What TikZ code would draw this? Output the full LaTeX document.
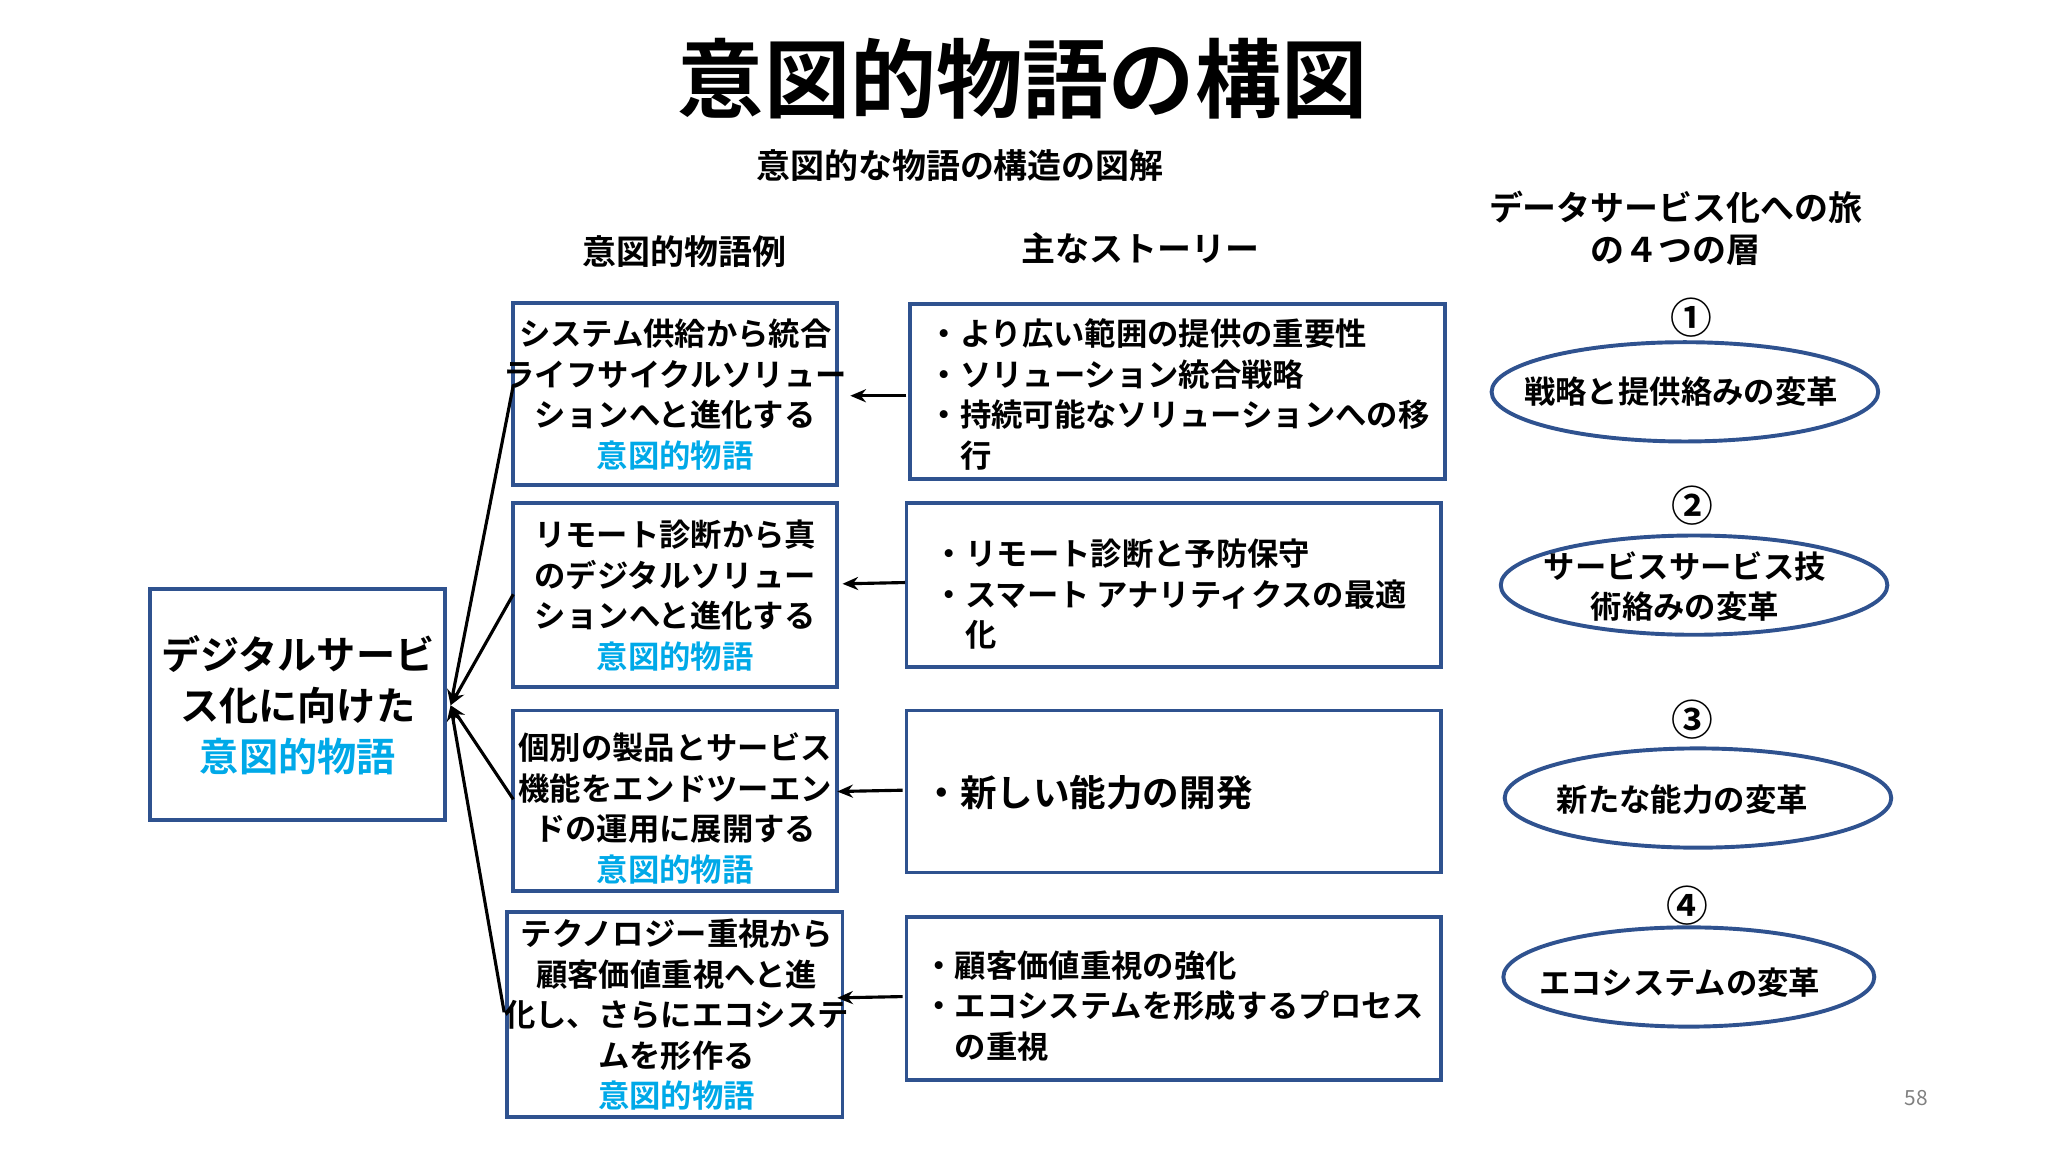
\documentclass[tikz,border=0pt]{standalone}
\usepackage{fontspec}
\setmainfont{Noto Sans CJK JP}[BoldFont={* Bold}]
\usetikzlibrary{arrows.meta}
\definecolor{bx}{HTML}{2F528F}
\definecolor{bl}{HTML}{00A9E8}
\tikzset{
 card/.style={draw=bx,line width=1.5pt,fill=white},
 ex/.style={font=\bfseries\fontsize{12}{15.5}\selectfont,align=center},
 st/.style={font=\bfseries\fontsize{12}{15.5}\selectfont,align=left,anchor=west},
 ell/.style={draw=bx,line width=1.5pt,ellipse,minimum width=148pt,minimum height=38pt,font=\bfseries\fontsize{12}{14}\selectfont,align=center},
 num/.style={font=\bfseries\fontsize{16}{16}\selectfont},
 hd/.style={font=\bfseries\fontsize{13}{16}\selectfont,align=center},
 arr/.style={-{Stealth[length=6pt,width=5pt]},line width=1.2pt}
}
\begin{document}
\begin{tikzpicture}[x=0.5pt,y=-0.5pt]
\useasboundingbox (0,0) rectangle (1568,882);
\node[font=\bfseries\fontsize{33}{33}\selectfont] (title) at (783,60) {意図的物語の構図};
\node[font=\bfseries\fontsize{13}{13}\selectfont] (sub) at (735,127) {意図的な物語の構造の図解};
\node[hd] (h1) at (524,193) {意図的物語例};
\node[hd] (h2) at (873,190) {主なストーリー};
\node[hd] (h3) at (1283,175) {データサービス化への旅\\の４つの層};
% left box
\draw[card] (115,451) rectangle (341,628);
\node[font=\bfseries\fontsize{15}{19.5}\selectfont,align=center] (L) at (228,540) {デジタルサービ\\ス化に向けた\\\textcolor{bl}{意図的物語}};
\coordinate (Lr) at (345,540);
% example boxes
\draw[card] (393,232) rectangle (641,371);
\node[ex] (e1) at (517,302) {システム供給から統合\\ライフサイクルソリュー\\ションへと進化する\\\textcolor{bl}{意図的物語}};
\draw[card] (393,385) rectangle (641,526);
\node[ex] (e2) at (517,456) {リモート診断から真\\のデジタルソリュー\\ションへと進化する\\\textcolor{bl}{意図的物語}};
\draw[card] (393,544) rectangle (641,682);
\node[ex] (e3) at (517,619) {個別の製品とサービス\\機能をエンドツーエン\\ドの運用に展開する\\\textcolor{bl}{意図的物語}};
\draw[card] (388,698) rectangle (645,855);
\node[ex] (e4) at (518,777) {テクノロジー重視から\\顧客価値重視へと進\\化し、さらにエコシステ\\ムを形作る\\\textcolor{bl}{意図的物語}};
% story boxes
\draw[card] (697,233) rectangle (1106,367);
\node[st] (s1) at (704,302) {・より広い範囲の提供の重要性\\・ソリューション統合戦略\\・持続可能なソリューションへの移\\\hphantom{・}行};
\draw[card] (694,385) rectangle (1103,511);
\node[st] (s2) at (708,455) {・リモート診断と予防保守\\・スマート アナリティクスの最適\\\hphantom{・}化};
\draw[card] (694,544) rectangle (1103,668);
\node[st,font=\bfseries\fontsize{14}{16}\selectfont] (s3) at (700,607) {・新しい能力の開発};
\draw[card] (694,702) rectangle (1103,827);
\node[st] (s4) at (700,770) {・顧客価値重視の強化\\・エコシステムを形成するプロセス\\\hphantom{・}の重視};
% arrows
\coordinate (a1s) at (694,303); \coordinate (a1e) at (651,303);
\coordinate (a2s) at (693,446); \coordinate (a2e) at (645,447);
\coordinate (a3s) at (691,605); \coordinate (a3e) at (641,606);
\coordinate (a4s) at (691,763); \coordinate (a4e) at (641,764);
\draw[arr] (a1s) -- (a1e);
\draw[arr] (a2s) -- (a2e);
\draw[arr] (a3s) -- (a3e);
\draw[arr] (a4s) -- (a4e);
\coordinate (b1) at (393,295); \coordinate (b2) at (393,455);
\coordinate (b3) at (393,612); \coordinate (b4) at (386,775);
\draw[arr] (b1) -- (Lr);
\draw[arr] (b2) -- (Lr);
\draw[arr] (b3) -- (Lr);
\draw[arr] (b4) -- (Lr);
% ellipses
\draw[bx,line width=1.5pt] (1290,300) ellipse [x radius=148,y radius=38];
\node[font=\bfseries\fontsize{12}{14}\selectfont] (t1) at (1287,300) {戦略と提供絡みの変革};
\draw[bx,line width=1.5pt] (1297,448) ellipse [x radius=148,y radius=38];
\node[font=\bfseries\fontsize{12}{15.5}\selectfont,align=center] (t2) at (1290,449) {サービスサービス技\\術絡みの変革};
\draw[bx,line width=1.5pt] (1300,611) ellipse [x radius=148,y radius=38];
\node[font=\bfseries\fontsize{12}{14}\selectfont] (t3) at (1288,612) {新たな能力の変革};
\draw[bx,line width=1.5pt] (1293,748) ellipse [x radius=142,y radius=38];
\node[font=\bfseries\fontsize{12}{14}\selectfont] (t4) at (1286,752) {エコシステムの変革};
\node[num] (n1) at (1295,243) {①};
\node[num] (n2) at (1296,387) {②};
\node[num] (n3) at (1296,551) {③};
\node[num] (n4) at (1292,693) {④};
\node[text=gray,font=\fontsize{8}{8}\selectfont] (pg) at (1467,841) {58};
\end{tikzpicture}
\end{document}
